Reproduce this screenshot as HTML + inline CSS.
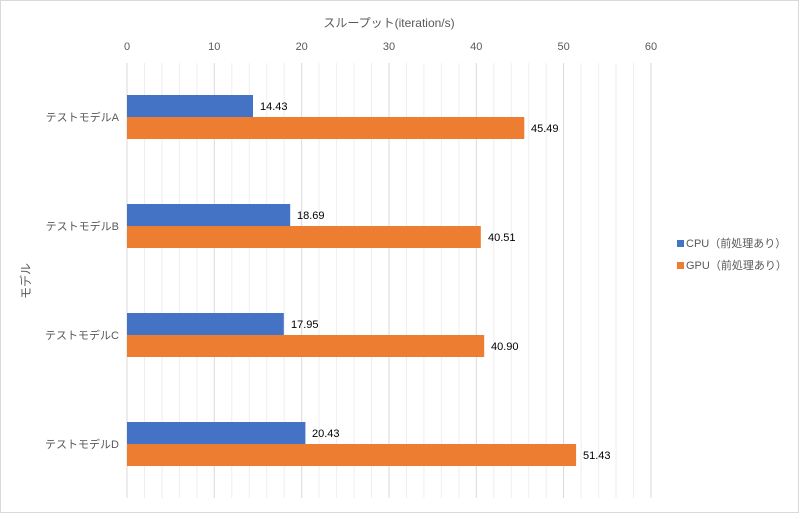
<!DOCTYPE html><html><head><meta charset="utf-8"><style>body{margin:0;background:#fff}</style></head><body>
<svg width="800" height="514" xmlns="http://www.w3.org/2000/svg" font-family="'Liberation Sans','Noto Sans CJK JP',sans-serif">
<rect x="0.5" y="0.5" width="798" height="512" fill="#fff" stroke="#d9d9d9"/>
<g stroke="#eeeeee" stroke-width="1">
<line x1="144.5" y1="63" x2="144.5" y2="498"/><line x1="162" y1="63" x2="162" y2="498"/><line x1="179.4" y1="63" x2="179.4" y2="498"/><line x1="196.9" y1="63" x2="196.9" y2="498"/>
<line x1="231.8" y1="63" x2="231.8" y2="498"/><line x1="249.3" y1="63" x2="249.3" y2="498"/><line x1="266.7" y1="63" x2="266.7" y2="498"/><line x1="284.2" y1="63" x2="284.2" y2="498"/>
<line x1="319.1" y1="63" x2="319.1" y2="498"/><line x1="336.6" y1="63" x2="336.6" y2="498"/><line x1="354.1" y1="63" x2="354.1" y2="498"/><line x1="371.5" y1="63" x2="371.5" y2="498"/>
<line x1="406.5" y1="63" x2="406.5" y2="498"/><line x1="423.9" y1="63" x2="423.9" y2="498"/><line x1="441.4" y1="63" x2="441.4" y2="498"/><line x1="458.9" y1="63" x2="458.9" y2="498"/>
<line x1="493.8" y1="63" x2="493.8" y2="498"/><line x1="511.3" y1="63" x2="511.3" y2="498"/><line x1="528.7" y1="63" x2="528.7" y2="498"/><line x1="546.2" y1="63" x2="546.2" y2="498"/>
<line x1="581.1" y1="63" x2="581.1" y2="498"/><line x1="598.6" y1="63" x2="598.6" y2="498"/><line x1="616" y1="63" x2="616" y2="498"/><line x1="633.5" y1="63" x2="633.5" y2="498"/>
</g>
<g stroke="#d9d9d9" stroke-width="1">
<line x1="127" y1="63" x2="127" y2="498"/><line x1="214.3" y1="63" x2="214.3" y2="498"/><line x1="301.7" y1="63" x2="301.7" y2="498"/><line x1="389" y1="63" x2="389" y2="498"/><line x1="476.3" y1="63" x2="476.3" y2="498"/><line x1="563.6" y1="63" x2="563.6" y2="498"/><line x1="651" y1="63" x2="651" y2="498"/>
</g>
<g font-size="11" fill="#595959" text-anchor="middle">
<text x="127" y="50">0</text><text x="214.3" y="50">10</text><text x="301.7" y="50">20</text><text x="389" y="50">30</text><text x="476.3" y="50">40</text><text x="563.6" y="50">50</text><text x="651" y="50">60</text>
</g>
<g fill="#4472c4">
<rect x="127" y="95" width="126" height="22"/><rect x="127" y="204" width="163.2" height="22"/><rect x="127" y="313" width="156.8" height="22"/><rect x="127" y="422" width="178.4" height="22"/>
</g>
<g fill="#ed7d31">
<rect x="127" y="117" width="397.3" height="22"/><rect x="127" y="226" width="353.8" height="22"/><rect x="127" y="335" width="357.2" height="22"/><rect x="127" y="444" width="449.1" height="22"/>
</g>
<g font-size="11" fill="#000">
<text x="260" y="110">14.43</text><text x="531" y="132">45.49</text>
<text x="297" y="219">18.69</text><text x="488" y="241">40.51</text>
<text x="291" y="328">17.95</text><text x="491" y="350">40.90</text>
<text x="312" y="437">20.43</text><text x="583" y="459">51.43</text>
</g>
<g font-size="11" fill="#595959" text-anchor="end">
<text x="119" y="121">テストモデルA</text><text x="119" y="230">テストモデルB</text><text x="119" y="339">テストモデルC</text><text x="119" y="448">テストモデルD</text>
</g>
<text x="389" y="27" font-size="12" fill="#595959" text-anchor="middle">スループット(iteration/s)</text>
<text transform="translate(30,281) rotate(-90)" font-size="12" fill="#595959" text-anchor="middle">モデル</text>
<rect x="677" y="240" width="7" height="7" fill="#4472c4"/>
<text x="686" y="247" font-size="11" fill="#595959">CPU（前処理あり）</text>
<rect x="677" y="262" width="7" height="7" fill="#ed7d31"/>
<text x="686" y="269" font-size="11" fill="#595959">GPU（前処理あり）</text>
</svg></body></html>
